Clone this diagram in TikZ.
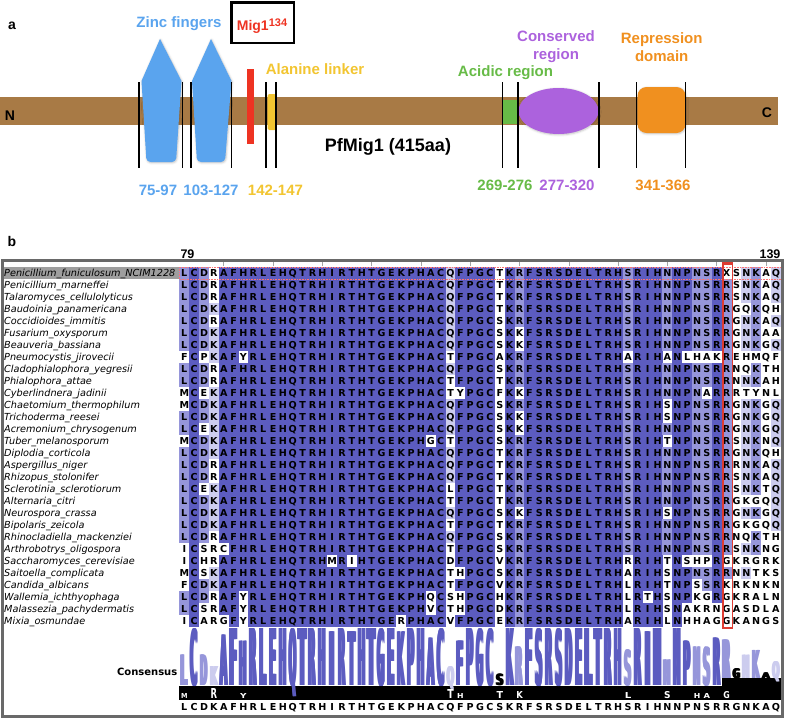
\documentclass[tikz,border=0pt]{standalone}
\usepackage{fontspec}
\setmainfont{Liberation Sans}
\newfontfamily\alnfont{DejaVu Sans}
\usepackage{graphicx}
\usetikzlibrary{shadows.blur}
\definecolor{barBrown}{HTML}{A87A45}
\definecolor{zfBlue}{HTML}{5AA4EE}
\definecolor{migRed}{HTML}{EE3322}
\definecolor{alaYellow}{HTML}{F2C531}
\definecolor{acGreen}{HTML}{67BB47}
\definecolor{crPurple}{HTML}{AC62DD}
\definecolor{rdOrange}{HTML}{F0901F}
\definecolor{pidHigh}{RGB}{92,92,192}
\definecolor{pidMid}{RGB}{150,150,218}
\definecolor{pidLow}{RGB}{204,204,238}
\definecolor{selGray}{RGB}{158,158,158}
\definecolor{frameGray}{RGB}{105,105,105}
\definecolor{colRed}{RGB}{222,60,50}

% alignment: one scan macro, reused for counting, cells, logo and consensus
\newcount\alncol
\newcount\alnrowno
\newcount\alnpct
\makeatletter
\def\aln@stop{\aln@stop}
\def\alnscan#1{\global\alncol=0 \aln@next#1\aln@stop}
\def\aln@next#1{%
  \ifx#1\aln@stop
    \let\aln@go\relax
  \else
    \if#1|\else\global\advance\alncol by 1 \alncell{#1}\fi
    \let\aln@go\aln@next
  \fi
  \aln@go}
\def\alnx@of{\pgfmathsetmacro\alnx{184.3+(\the\alncol-1)*9.86}}
\def\aln@level{% percent identity shade of current column
  \alnpct=\numexpr\csname alncnt@\the\alncol\endcsname*100/\alnseqs\relax
  \ifnum\alnpct>80 \def\aln@fill{pidHigh}\else
  \ifnum\alnpct>60 \def\aln@fill{pidMid}\else
  \ifnum\alnpct>40 \def\aln@fill{pidLow}\fi\fi\fi}
\def\alnsetcons#1{%
  \expandafter\xdef\csname alncons@\the\alncol\endcsname{#1}%
  \expandafter\xdef\csname alncnt@\the\alncol\endcsname{0}}
\def\alncount#1{%
  \def\aln@tmp{#1}%
  \expandafter\ifx\csname alncons@\the\alncol\endcsname\aln@tmp
    \expandafter\xdef\csname alncnt@\the\alncol\endcsname{%
      \the\numexpr\csname alncnt@\the\alncol\endcsname+1\relax}%
  \fi}
\def\alndraw#1{%
  \alnx@of
  \def\aln@tmp{#1}\let\aln@fill\relax
  \expandafter\ifx\csname alncons@\the\alncol\endcsname\aln@tmp\aln@level\fi
  \ifx\aln@fill\relax\else
    \fill[\aln@fill] (\alnx-4.96,\alny-6.05) rectangle (\alnx+4.96,\alny+6.05);
  \fi
  \node[residue] (r\the\alnrowno-\the\alncol) at (\alnx,\alny+3.5) {#1};}
% heavy logo glyph: #1 width of one copy, #2 ink height (pt), #3 letter
\def\logoglyph#1#2#3{%
  \sbox0{\resizebox{#1}{#2pt}{#3}}%
  \rlap{\usebox0}\hspace{0.7pt}\rlap{\usebox0}\hspace{0.7pt}\rlap{\usebox0}\hspace{0.7pt}\usebox0}
\def\alnlogo#1{%
  \alnx@of
  \let\aln@fill\relax\aln@level
  \ifx\aln@fill\relax\def\aln@fill{black}\fi
  \edef\aln@n{\csname alncnt@\the\alncol\endcsname}%
  \pgfmathsetmacro\alnh{max(1.5,57*(\aln@n/\alnseqs)^1.75)}%
  \ifnum\alncol>55 \def\aln@base{678}\else\def\aln@base{685.5}\fi
  \node[logoletter,text=\aln@fill] (logo\the\alncol) at (\alnx,\aln@base)
    {\logoglyph{7.2pt}{\alnh}{#1}};}
\def\alnconsrow#1{\alnx@of
  \node[residue] (cons\the\alncol) at (\alnx,710.2) {#1};}
\def\alnrowcount#1#2{\global\advance\alnrowno by 1 \alnscan{#2}}
\def\alnrowdraw#1#2{%
  \global\advance\alnrowno by 1
  \pgfmathsetmacro\alny{273+(\the\alnrowno-1)*12}%
  \node[seqname] (name\the\alnrowno) at (4,\alny+3.5) {#1};
  \alnscan{#2}}
\makeatother

\def\alncons{LCDK|AFHRLEHQTRHIRTHTGEKPHAC|QFPGC|S|KRFSRSDELTRHSRIHNNPNSR|R|GNKAQ}
\def\alnrows{%
  \alnrow{Penicillium\_funiculosum\_NCIM1228}{LCDR|AFHRLEHQTRHIRTHTGEKPHAC|QFPGC|T|KRFSRSDELTRHSRIHNNPNSR|X|SNKAQ}%
  \alnrow{Penicillium\_marneffei}{LCDR|AFHRLEHQTRHIRTHTGEKPHAC|QFPGC|T|KRFSRSDELTRHSRIHNNPNSR|R|SNKAQ}%
  \alnrow{Talaromyces\_cellulolyticus}{LCDR|AFHRLEHQTRHIRTHTGEKPHAC|QFPGC|T|KRFSRSDELTRHSRIHNNPNSR|R|SNKAQ}%
  \alnrow{Baudoinia\_panamericana}{LCDK|AFHRLEHQTRHIRTHTGEKPHAC|QFPGC|T|KRFSRSDELTRHSRIHNNPNSR|R|GQKQH}%
  \alnrow{Coccidioides\_immitis}{LCDR|AFHRLEHQTRHIRTHTGEKPHAC|QFPGC|S|KRFSRSDELTRHSRIHNNPNSR|R|GNKAQ}%
  \alnrow{Fusarium\_oxysporum}{LCDK|AFHRLEHQTRHIRTHTGEKPHAC|QFPGC|S|KKFSRSDELTRHSRIHNNPNSR|R|GNKAA}%
  \alnrow{Beauveria\_bassiana}{LCDK|AFHRLEHQTRHIRTHTGEKPHAC|QFPGC|S|KKFSRSDELTRHSRIHNNPNSR|R|GNKGQ}%
  \alnrow{Pneumocystis\_jirovecii}{FCPK|AFYRLEHQTRHIRTHTGEKPHAC|TFPGC|A|KRFSRSDELTRHARIHANLHAK|R|EHMQF}%
  \alnrow{Cladophialophora\_yegresii}{LCDR|AFHRLEHQTRHIRTHTGEKPHAC|QFPGC|S|KRFSRSDELTRHSRIHNNPNSR|R|NQKTH}%
  \alnrow{Phialophora\_attae}{LCDR|AFHRLEHQTRHIRTHTGEKPHAC|TFPGC|T|KRFSRSDELTRHSRIHNNPNSR|R|NNKAH}%
  \alnrow{Cyberlindnera\_jadinii}{MCEK|AFHRLEHQTRHIRTHTGEKPHAC|TYPGC|F|KKFSRSDELTRHSRIHNNPNAR|R|RTYNL}%
  \alnrow{Chaetomium\_thermophilum}{MCDK|AFHRLEHQTRHIRTHTGEKPHAC|QFPGC|S|KRFSRSDELTRHSRIHSNPNSR|R|GNKGQ}%
  \alnrow{Trichoderma\_reesei}{LCDK|AFHRLEHQTRHIRTHTGEKPHAC|QFPGC|S|KKFSRSDELTRHSRIHSNPNSR|R|GNKGQ}%
  \alnrow{Acremonium\_chrysogenum}{LCEK|AFHRLEHQTRHIRTHTGEKPHAC|QFPGC|S|KKFSRSDELTRHSRIHNNPNSR|R|GNKGQ}%
  \alnrow{Tuber\_melanosporum}{MCDK|AFHRLEHQTRHIRTHTGEKPHGC|TFPGC|S|KRFSRSDELTRHSRIHTNPNSR|R|SNKNQ}%
  \alnrow{Diplodia\_corticola}{LCDK|AFHRLEHQTRHIRTHTGEKPHAC|QFPGC|T|KRFSRSDELTRHSRIHNNPNSR|R|GNKQH}%
  \alnrow{Aspergillus\_niger}{LCDR|AFHRLEHQTRHIRTHTGEKPHAC|QFPGC|T|KRFSRSDELTRHSRIHNNPNSR|R|RNKAQ}%
  \alnrow{Rhizopus\_stolonifer}{LCDR|AFHRLEHQTRHIRTHTGEKPHAC|QFPGC|T|KRFSRSDELTRHSRIHNNPNSR|R|SNKAQ}%
  \alnrow{Sclerotinia\_sclerotiorum}{LCEK|AFHRLEHQTRHIRTHTGEKPHAC|LFPGC|T|KRFSRSDELTRHSRIHNNPNSR|R|SNKTQ}%
  \alnrow{Alternaria\_citri}{LCDK|AFHRLEHQTRHIRTHTGEKPHAC|TFPGC|T|KRFSRSDELTRHSRIHNNPNSR|R|GKGQQ}%
  \alnrow{Neurospora\_crassa}{LCDK|AFHRLEHQTRHIRTHTGEKPHAC|QFPGC|S|KKFSRSDELTRHSRIHSNPNSR|R|GNKGQ}%
  \alnrow{Bipolaris\_zeicola}{LCDK|AFHRLEHQTRHIRTHTGEKPHAC|TFPGC|T|KRFSRSDELTRHSRIHNNPNSR|R|GKGQQ}%
  \alnrow{Rhinocladiella\_mackenziei}{LCDR|AFHRLEHQTRHIRTHTGEKPHAC|QFPGC|S|KRFSRSDELTRHSRIHNNPNSR|R|NQKTH}%
  \alnrow{Arthrobotrys\_oligospora}{ICSR|CFHRLEHQTRHIRTHTGEKPHAC|TFPGC|S|KRFSRSDELTRHSRIHNNPNSR|R|SNKNG}%
  \alnrow{Saccharomyces\_cerevisiae}{ICHR|AFHRLEHQTRHMRIHTGEKPHAC|DFPGC|V|KRFSRSDELTRHRRIHTNSHPR|G|KRGRK}%
  \alnrow{Saitoella\_complicata}{MCSK|AFHRLEHQTRHIRTHTGEKPHAC|THPGC|S|KRFSRSDELTRHARIHSNPNSR|R|NNTKS}%
  \alnrow{Candida\_albicans}{FCDK|AFHRLEHQTRHIRTHTGEKPHAC|TFPGC|V|KRFSRSDELTRHLRIHTNPSSR|K|RKNKN}%
  \alnrow{Wallemia\_ichthyophaga}{LCDR|AFYRLEHQTRHIRTHTGEKPHQC|SHPGC|H|KRFSRSDELTRHLRTHSNPKGR|G|KRALN}%
  \alnrow{Malassezia\_pachydermatis}{LCSR|AFYRLEHQTRHIRTHTGEKPHVC|THPGC|D|KRFSRSDELTRHLRIHSNAKRN|G|ASDLA}%
  \alnrow{Mixia\_osmundae}{ICAR|GFYRLEHQTRHIRTHTGERPHAC|VFPGC|E|KRFSRSDELTRHARIHLNHHAG|G|KANGS}%
}
% consensus letters, then counts per column
\let\alncell\alnsetcons
\expandafter\alnscan\expandafter{\alncons}
\let\alnrow\alnrowcount \let\alncell\alncount
\global\alnrowno=0 \alnrows
\xdef\alnseqs{\the\alnrowno}

\begin{document}
\begin{tikzpicture}[x=1pt,y=-1pt,
  domlbl/.style={font=\bfseries\fontsize{15}{18}\selectfont,align=center,inner sep=0pt},
  rangelbl/.style={font=\bfseries\fontsize{15}{18}\selectfont,inner sep=0pt,anchor=base},
  panel/.style={font=\bfseries\fontsize{14}{14}\selectfont,inner sep=0pt,anchor=base},
  residue/.style={anchor=base,inner sep=0pt,font=\alnfont\bfseries\fontsize{9.6}{10}\selectfont},
  seqname/.style={anchor=base west,inner sep=0pt,font=\alnfont\itshape\fontsize{9.7}{10}\selectfont},
  logoletter/.style={anchor=base,inner sep=0pt,font=\alnfont\bfseries\fontsize{10}{10}\selectfont},
  bound/.style={line width=1.3pt},
  soft/.style={blur shadow={shadow xshift=0.6pt,shadow yshift=-0.8pt,shadow blur steps=4,shadow opacity=25}},
]
\useasboundingbox (0,0) rectangle (785,718);

% ---- a: domain map
\node[panel] (pa) at (12,29.3) {a};
\fill[barBrown] (0,97.3) rectangle (778,125);
\node[panel] (nterm) at (10,120) {N};
\node[panel] (cterm) at (767,117) {C};
\fill[zfBlue,soft] (160,39) -- (181.5,81) [rounded corners=4pt] -- (176,162) -- (146.5,162) [sharp corners] -- (141.5,81) -- cycle;
\fill[zfBlue,soft] (211,39) -- (231.5,81) [rounded corners=4pt] -- (225,162) -- (197,162) [sharp corners] -- (192,81) -- cycle;
\fill[migRed] (246.7,69) rectangle (254.3,144);
\fill[alaYellow,rounded corners=1.5pt] (267.7,94) rectangle (276,130);
\fill[acGreen] (502,100) rectangle (518,124);
\fill[crPurple,soft] (558.5,111) ellipse [x radius=40pt,y radius=23pt];
\fill[rdOrange,soft,rounded corners=9pt] (637.5,87) rectangle (685.5,133);
\foreach \x in {139,182.7,191,231.7,266,276,502.3,518,599,636.7,685.7}
  \draw[bound] (\x,82) -- (\x,168);

\node[domlbl,text=zfBlue,anchor=base] (zflbl) at (179,27.3) {Zinc fingers};
\node[draw,line width=2.5pt,minimum width=62.5pt,minimum height=40.5pt,inner sep=0pt] (migbox) at (262.5,22.5) {};
\node[domlbl,text=migRed,anchor=base,font=\bfseries\fontsize{14}{14}\selectfont] (miglbl) at (262,30)
  {Mig1\raisebox{3.5pt}{\fontsize{11}{11}\selectfont 134}};
\node[domlbl,text=alaYellow,anchor=base] (alalbl) at (315,74) {Alanine linker};
\node[anchor=base,font=\bfseries\fontsize{18}{18}\selectfont,inner sep=0pt] (protlbl) at (388,151.7) {PfMig1 (415aa)};
\node[domlbl,text=acGreen,anchor=base] (aclbl) at (505.5,76) {Acidic region};
\node[domlbl,text=crPurple] (crlbl) at (556,47) {Conserved\\region};
\node[domlbl,text=rdOrange] (rdlbl) at (661.7,47) {Repression\\domain};
\node[rangelbl,text=zfBlue] (zf1rng) at (158,195) {75-97};
\node[rangelbl,text=zfBlue] (zf2rng) at (211,195) {103-127};
\node[rangelbl,text=alaYellow] (alarng) at (275.5,195) {142-147};
\node[rangelbl,text=acGreen] (acrng) at (505,190) {269-276};
\node[rangelbl,text=crPurple] (crrng) at (567,190) {277-320};
\node[rangelbl,text=rdOrange] (rdrng) at (663,190) {341-366};

% ---- b: alignment
\node[panel] (pb) at (12,246.7) {b};
\node[anchor=base,font=\bfseries\fontsize{12.5}{12.5}\selectfont,inner sep=0pt] (pos79) at (187.5,258.5) {79};
\node[anchor=base,font=\bfseries\fontsize{12.5}{12.5}\selectfont,inner sep=0pt] (pos139) at (770,258.5) {139};
\foreach \c in {5,10,...,60}
  \draw[frameGray!60,line width=0.6pt] ({184.3+(\c-1)*9.86},261.5) -- ++(0,4);
\fill[selGray] (3,267.3) rectangle (179,279.2);
\let\alnrow\alnrowdraw \let\alncell\alndraw
\global\alnrowno=0 \alnrows
\draw[red!55,densely dotted,line width=0.6pt] (179.4,267.2) rectangle (780.8,279.2);

% consensus logo
\fill[black] (179.4,685.5) rectangle (780.8,700);
\fill[black] (721.9,678) rectangle (780.8,686);
\let\alncell\alnlogo
\expandafter\alnscan\expandafter{\alncons}
\foreach \c/\l/\h in {1/M/5,4/R/10,7/Y/5,28/T/9,29/H/5,33/T/7,35/K/7,46/L/6,50/S/7,53/H/5,54/A/5,56/G/7}
  \node[logoletter,text=white] (sub\c) at ({184.3+(\c-1)*9.86},698.5) {\resizebox{6.5pt}{\h pt}{\l}};
\draw[white,dashed,line width=0.8pt] (179.4,627.5) -- (780.8,627.5);
\node[anchor=base east,inner sep=0pt,font=\alnfont\bfseries\fontsize{10}{10}\selectfont] (conslbl) at (177.5,675) {Consensus};
\let\alncell\alnconsrow
\expandafter\alnscan\expandafter{\alncons}

\draw[colRed,line width=1.4pt] (722.8,262) rectangle (732.3,628);
\fill[colRed] (722.1,259) rectangle (733,264.5);
\draw[frameGray,line width=3pt] (2.5,260) rectangle (782.5,716.5);
\end{tikzpicture}
\end{document}
